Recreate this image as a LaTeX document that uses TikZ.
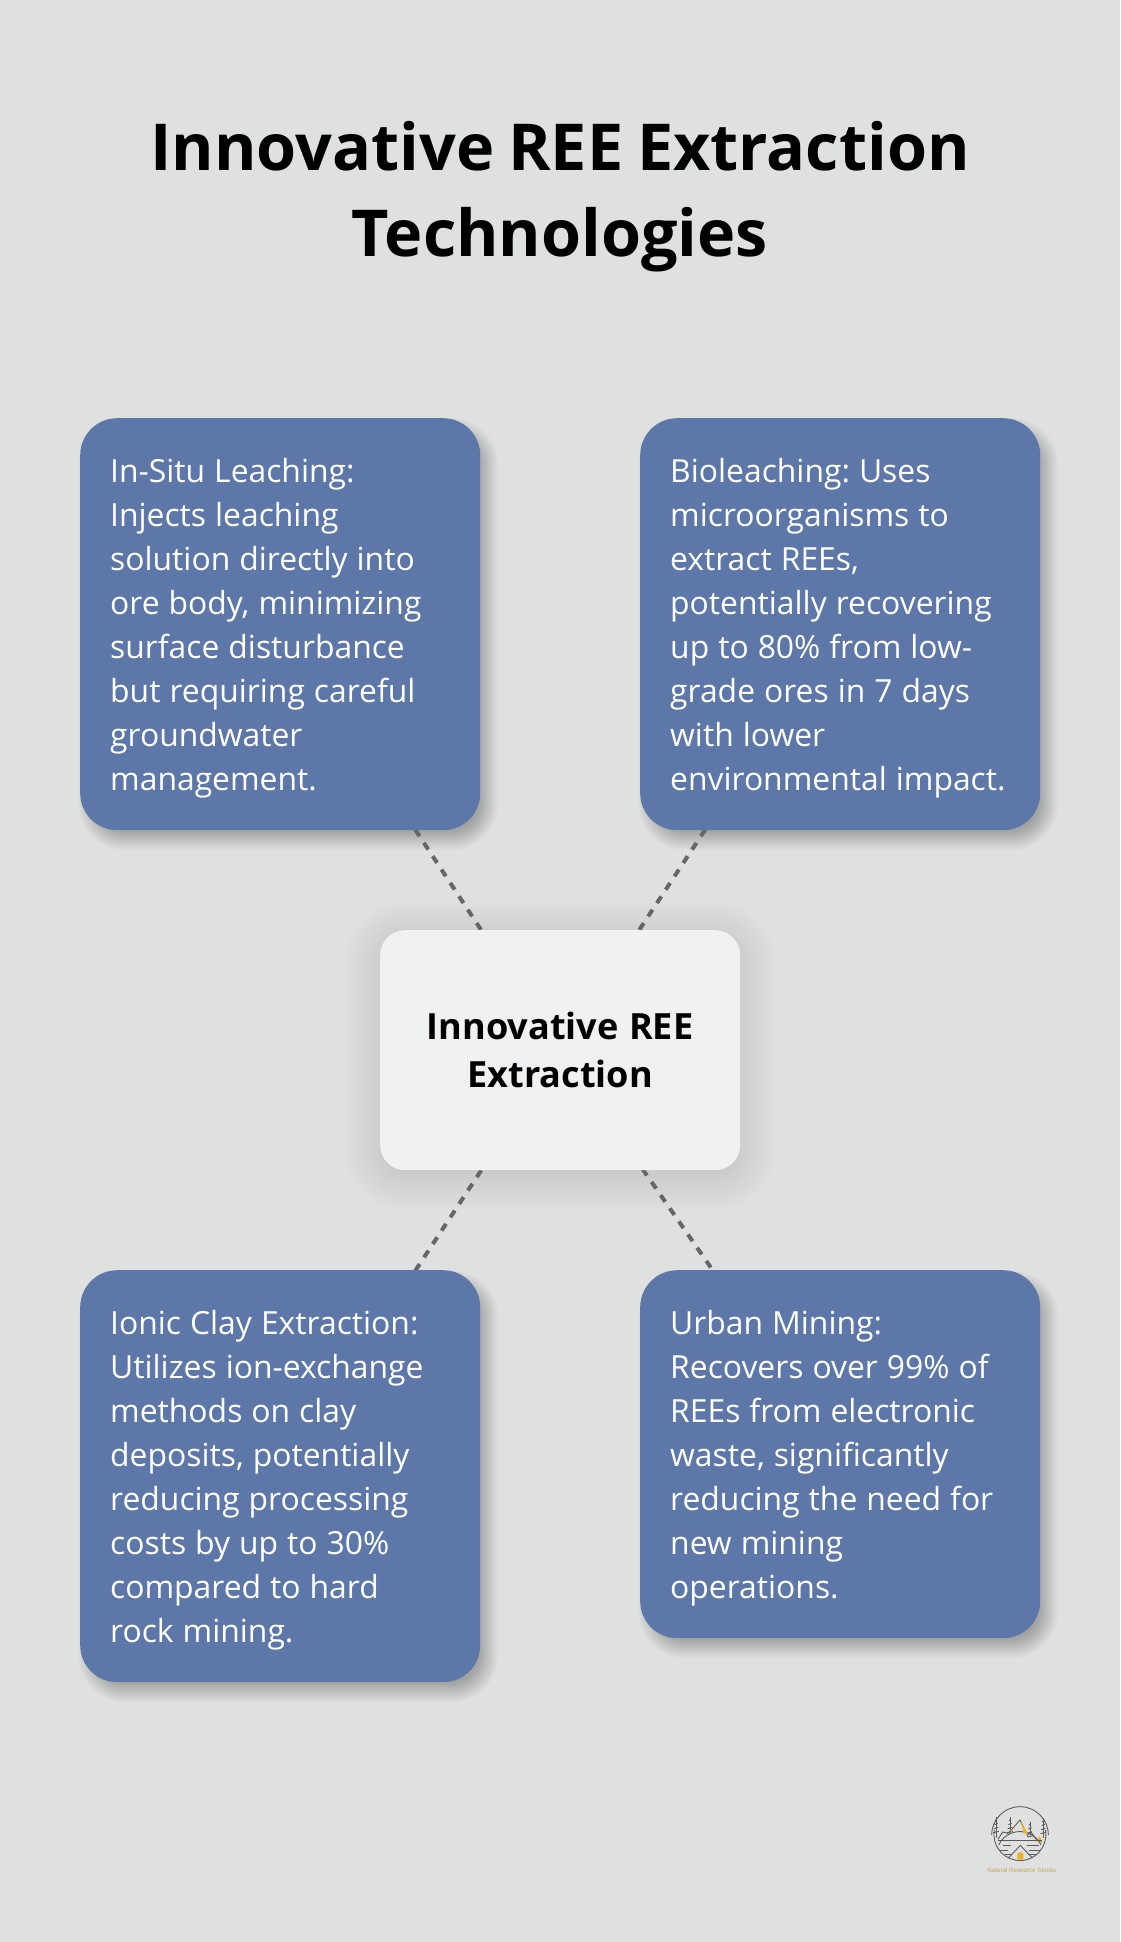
\documentclass[tikz,border=0pt]{standalone}
\usepackage{fontspec}
\setmainfont{Open Sans}
\newfontfamily\logofont{Liberation Sans}
\usetikzlibrary{calc}
\definecolor{pagebg}{HTML}{DFE1E0}
\definecolor{boxblue}{HTML}{5D77A9}
\definecolor{corebox}{HTML}{F0F1F3}
\definecolor{dashgrey}{HTML}{666666}
\definecolor{logogrey}{HTML}{5A5A5A}
\definecolor{logogold}{HTML}{F0B020}
\definecolor{logotext}{HTML}{C9A550}
\pgfdeclarelayer{shad}\pgfdeclarelayer{conn}
\pgfsetlayers{shad,conn,main}
% name, radius, offset x, offset y, first inflation, step, last index, opacity
\newcommand{\softshadow}[8]{%
  \foreach \k in {0,...,#7}{%
    \pgfmathsetmacro{\dd}{#5+#6*\k}%
    \pgfmathsetmacro{\rr}{max(#2+\dd,2)}%
    \fill[black,opacity=#8,rounded corners=\rr pt]
      ($(#1.north west)+(#3-\dd,#4-\dd)$) rectangle ($(#1.south east)+(#3+\dd,#4+\dd)$);
  }}
\newcommand{\blueshadow}[1]{\softshadow{#1}{37}{8}{10}{-11}{1}{21}{.013}}
\newcommand{\firstline}{\frenchspacing\spaceskip=9pt\relax\rule{0pt}{64pt}}
\newcommand{\lastline}{\rule[-40pt]{0pt}{40pt}}
\tikzset{
  infobox/.style={anchor=north west,fill=boxblue,text=white,rounded corners=37pt,
    minimum width=400pt,text width=340pt,inner xsep=30pt,inner ysep=0pt,align=left,
    font=\fontsize{31.85}{44}\selectfont},
  corenode/.style={fill=corebox,text=black,rounded corners=25pt,minimum width=360pt,
    text width=340pt,inner xsep=10pt,inner ysep=0pt,align=center,
    font=\bfseries\fontsize{36.1}{48}\selectfont},
  titlenode/.style={text=black,align=center,inner sep=0pt,text width=1000pt,
    font=\bfseries\fontsize{64.7}{86}\selectfont},
  linkline/.style={draw=dashgrey,line width=4pt},
  logoline/.style={draw=logogrey,line width=.9pt},
  logofill/.style={fill=logogold}
}
\begin{document}
\begin{tikzpicture}[x=1pt,y=-1pt]
\useasboundingbox (0,0) rectangle (1120,1942);
\begin{pgfonlayer}{shad}
\fill[pagebg] (0,0) rectangle (1120,1942);
\end{pgfonlayer}

\node[titlenode,anchor=north] (title) at (560,100) {\frenchspacing\spaceskip=13.8pt\relax\rule{0pt}{70pt}Innovative REE Extraction\\Technologies};

\node[infobox] (a) at (80,418) {\firstline In-Situ Leaching:\\Injects leaching\\solution directly into\\ore body, minimizing\\surface disturbance\\but requiring careful\\groundwater\\management.\lastline};
\node[infobox] (b) at (640,418) {\firstline Bioleaching: Uses\\microorganisms to\\extract REEs,\\potentially recovering\\up to 80\% from low-\\grade ores in 7 days\\with lower\\environmental impact.\lastline};
\node[infobox] (c) at (80,1270) {\firstline Ionic Clay Extraction:\\Utilizes ion-exchange\\methods on clay\\deposits, potentially\\reducing processing\\costs by up to 30\%\\compared to hard\\rock mining.\lastline};
\node[infobox] (d) at (640,1270) {\firstline Urban Mining:\\Recovers over 99\% of\\REEs from electronic\\waste, significantly\\reducing the need for\\new mining\\operations.\lastline};
\node[corenode,anchor=north west] (m) at (380,930) {\frenchspacing\spaceskip=10.3pt\relax\rule{0pt}{109pt}Innovative REE\\Extraction\rule[-83pt]{0pt}{83pt}};

\begin{pgfonlayer}{shad}
\blueshadow{a}\blueshadow{b}\blueshadow{c}\blueshadow{d}
\softshadow{m}{25}{0}{6}{-10}{2}{23}{.0055}
\end{pgfonlayer}
\begin{pgfonlayer}{conn}
\draw[linkline,dash pattern=on 8pt off 8pt,dash phase=10.4pt] (a.center) -- (m.center);
\draw[linkline,dash pattern=on 8pt off 8pt,dash phase=10.3pt] (b.center) -- (m.center);
\draw[linkline,dash pattern=on 8pt off 8pt,dash phase=10.1pt] (c.center) -- (m.center);
\draw[linkline,dash pattern=on 8pt off 8pt,dash phase=12.8pt] (d.center) -- (m.center);
\end{pgfonlayer}

% logo
\begin{scope}[shift={(940,1780)},x=.3333pt,y=-.3333pt]
\draw[logoline] (163,150) arc[start angle=190,end angle=-10,radius=78];
\draw[logoline] (155,165) arc[start angle=180,end angle=360,radius=85];
\draw[logoline] (176,195) arc[start angle=205,end angle=335,radius=70];
\foreach \tx/\ta/\tb in {168/112/175,210/112/160,270/125/165,310/115/175}{
  \draw[logoline] (\tx,\ta) -- (\tx,\tb);
  \foreach \q in {10,22,34,46}{
    \draw[logoline] (\tx-1.5-\q*.15,\ta+\q) -- (\tx+1.5+\q*.15,\ta+\q-4);
  }
}
\draw[logoline] (174,178) -- (188,156) -- (204,160) -- (214,150) -- (240,120) -- (262,166) -- (273,156) -- (292,182) -- (306,186);
\fill[logofill] (242,124) -- (266,165) -- (252,160) -- cycle;
\fill[logofill] (211,149) -- (218,152) -- (212,158) -- cycle;
\fill[logofill] (298,168) -- (308,185) -- (290,185) -- cycle;
\fill[logofill] (232,238) -- (232,222) -- (241,216) -- (250,222) -- (250,238) -- cycle;
\draw[logoline] (205,234) -- (241,196) -- (277,234);
\foreach \lx/\ly/\lz in {173/182/305,188/196/212,262/196/298,178/210/205,268/210/300,195/224/215,265/224/288}{
  \draw[logoline] (\lx,\ly) -- (\lz,\ly);
}
\end{scope}
\node[text=logotext,inner sep=0pt,font=\logofont\fontsize{6.2}{8}\selectfont] (logotxt) at (1021.7,1870) {Natural Resource Stocks};
\end{tikzpicture}
\end{document}
